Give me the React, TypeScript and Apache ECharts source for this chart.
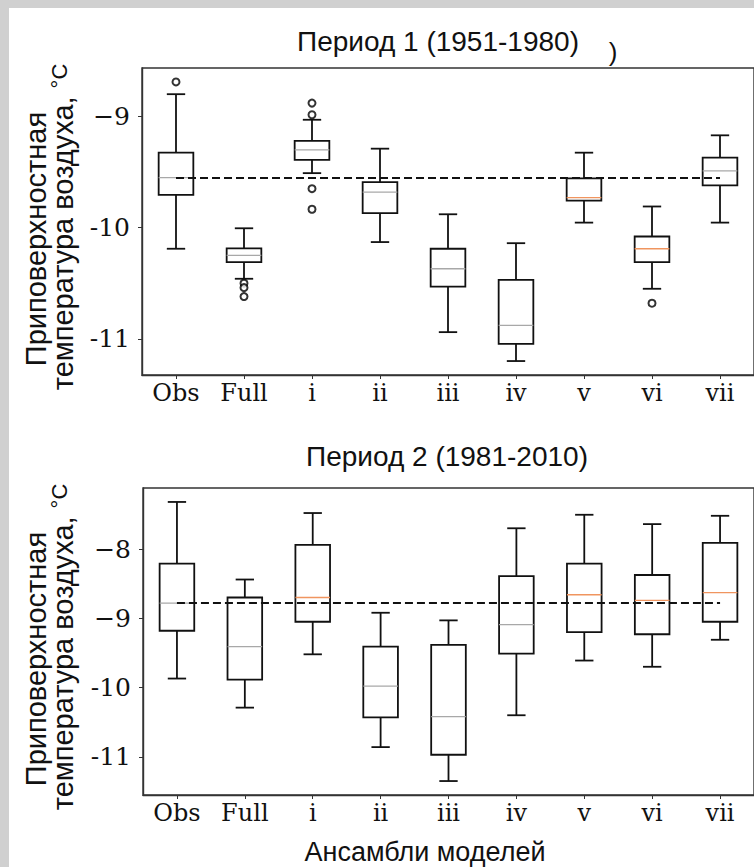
import React, { useEffect, useRef } from "react";
import * as echarts from "echarts";

const CATEGORIES = ["Obs", "Full", "i", "ii", "iii", "iv", "v", "vi", "vii"];

// Period 1 (1951-1980)
const P1_LOW = [-10.19, -10.46, -9.51, -10.13, -10.94, -11.2, -9.955, -10.55, -9.955];
const P1_Q1 = [-9.706, -10.31, -9.39, -9.87, -10.53, -11.045, -9.757, -10.31, -9.62];
const P1_MED = [-9.55, -10.25, -9.3, -9.68, -10.37, -10.88, -9.73, -10.19, -9.49];
const P1_Q3 = [-9.326, -10.186, -9.22, -9.59, -10.19, -10.47, -9.557, -10.08, -9.37];
const P1_HIGH = [-8.8, -10.006, -9.03, -9.29, -9.88, -10.14, -9.326, -9.81, -9.17];
const P1_OUTLIERS: [string, number][] = [
  ["Obs", -8.69],
  ["Full", -10.5],
  ["Full", -10.54],
  ["Full", -10.62],
  ["i", -8.88],
  ["i", -8.985],
  ["i", -9.65],
  ["i", -9.835],
  ["vi", -10.68],
];
const P1_ORANGE = ["v", "vi"];
const P1_TICKS = [-11, -10, -9];
const P1_TICK_LABELS = ["-11", "-10", "\u22129"];

// Period 2 (1981-2010)
const P2_LOW = [-9.87, -10.29, -9.52, -10.86, -11.35, -10.4, -9.61, -9.7, -9.31];
const P2_Q1 = [-9.18, -9.886, -9.05, -10.43, -10.97, -9.51, -9.2, -9.23, -9.05];
const P2_MED = [-8.78, -9.41, -8.7, -9.98, -10.42, -9.09, -8.66, -8.74, -8.63];
const P2_Q3 = [-8.21, -8.7, -7.94, -9.41, -9.385, -8.39, -8.21, -8.375, -7.91];
const P2_HIGH = [-7.32, -8.44, -7.48, -8.92, -9.03, -7.7, -7.505, -7.64, -7.52];
const P2_OUTLIERS: [string, number][] = [];
const P2_ORANGE = ["i", "v", "vi", "vii"];
const P2_TICKS = [-11, -10, -9, -8];
const P2_TICK_LABELS = ["-11", "-10", "\u22129", "\u22128"];

const TITLE1 = "Период 1 (1951-1980)";
const TITLE2 = "Период 2 (1981-2010)";
const YLABEL1 = "Приповерхностная";
const YLABEL2 = "температура воздуха, ";
const XLABEL = "Ансамбли моделей";

const SERIF = "DejaVu Serif";
const SANS = "Liberation Sans";
const INK = "#111111";

function extent(low: number[], high: number[], out: [string, number][]) {
  const vals = [...low, ...high, ...out.map((o) => o[1])];
  const mn = Math.min(...vals);
  const mx = Math.max(...vals);
  const pad = (mx - mn) * 0.05;
  return [mn - pad, mx + pad];
}

function makeRender(orange: string[]) {
  return (params: any, api: any) => {
    const idx = api.value(0);
    const p = (v: number) => api.coord([idx, v]);
    const lo = p(api.value(1));
    const q1 = p(api.value(2));
    const md = p(api.value(3));
    const q3 = p(api.value(4));
    const hi = p(api.value(5));
    const band = api.size([1, 0])[0];
    const bw = band * 0.51;
    const cw = band * 0.27;
    const cx = lo[0];
    const st = { stroke: INK, lineWidth: 1.8, fill: "none" };
    const medColor = orange.indexOf(CATEGORIES[idx]) >= 0 ? "#f0955f" : "#a8a8a8";
    return {
      type: "group",
      children: [
        { type: "line", shape: { x1: cx, y1: q3[1], x2: cx, y2: hi[1] }, style: st },
        { type: "line", shape: { x1: cx, y1: q1[1], x2: cx, y2: lo[1] }, style: st },
        { type: "line", shape: { x1: cx - cw / 2, y1: hi[1], x2: cx + cw / 2, y2: hi[1] }, style: st },
        { type: "line", shape: { x1: cx - cw / 2, y1: lo[1], x2: cx + cw / 2, y2: lo[1] }, style: st },
        {
          type: "rect",
          shape: { x: cx - bw / 2, y: q3[1], width: bw, height: q1[1] - q3[1] },
          style: st,
        },
        {
          type: "line",
          shape: { x1: cx - bw / 2, y1: md[1], x2: cx + bw / 2, y2: md[1] },
          style: { stroke: medColor, lineWidth: 1.3 },
        },
      ],
    };
  };
}

function boxData(lo: number[], q1: number[], md: number[], q3: number[], hi: number[]) {
  return CATEGORIES.map((_, i) => [i, lo[i], q1[i], md[i], q3[i], hi[i]]);
}

export default function App() {
  const ref = useRef<HTMLDivElement>(null);
  useEffect(() => {
    if (!ref.current) return;
    const chart = echarts.init(ref.current, undefined, { renderer: "svg" });
    const [min1, max1] = extent(P1_LOW, P1_HIGH, P1_OUTLIERS);
    const [min2, max2] = extent(P2_LOW, P2_HIGH, P2_OUTLIERS);

    const xAxisBase = (gi: number) => ({
      type: "category",
      gridIndex: gi,
      data: CATEGORIES,
      boundaryGap: true,
      axisLine: { show: true, lineStyle: { color: "#333", width: 1.4 } },
      axisTick: { show: true, alignWithLabel: true, length: 4, lineStyle: { color: "#333", width: 1 } },
      axisLabel: { color: "#111", fontFamily: SERIF, fontSize: 24, margin: 6 },
      splitLine: { show: false },
    });
    const yAxisBase = (gi: number, mn: number, mx: number, ticks: number[], labels: string[]) => ({
      type: "value",
      gridIndex: gi,
      min: mn,
      max: mx,
      axisLine: { show: true, lineStyle: { color: "#333", width: 1.4 } },
      axisTick: { show: true, length: 4, customValues: ticks, lineStyle: { color: "#333", width: 1 } },
      axisLabel: {
        customValues: ticks,
        color: "#111",
        fontFamily: SERIF,
        fontSize: 25,
        margin: 12,
        formatter: (v: number) => {
          const k = ticks.findIndex((t) => Math.abs(t - v) < 1e-6);
          return k >= 0 ? labels[k] : "";
        },
      },
      splitLine: { show: false },
    });

    const refLine = (val: number) => ({
      silent: true,
      symbol: ["none", "none"],
      label: { show: false },
      lineStyle: { type: [8, 4], color: "#111", width: 2 },
      data: [[{ coord: ["Obs", val] }, { coord: ["vii", val] }]],
    });

    const yTitle = (cx1: number, cx2: number, cy: number) => [
      {
        type: "text",
        x: cx1,
        y: cy + 18,
        rotation: Math.PI / 2,
        style: {
          text: YLABEL1,
          font: `29px ${SANS}`,
          fill: "#111",
          align: "center",
          verticalAlign: "middle",
        },
      },
      {
        type: "text",
        x: cx2,
        y: cy + 6,
        rotation: Math.PI / 2,
        style: {
          text: `{n|${YLABEL2}}{s|°C}`,
          fill: "#111",
          align: "center",
          verticalAlign: "middle",
          rich: {
            n: { fontFamily: SANS, fontSize: 29, fill: "#111" },
            s: { fontFamily: SANS, fontSize: 22, fill: "#111", verticalAlign: "top" },
          },
        },
      },
    ];

    chart.setOption({
      animation: false,
      backgroundColor: "#ffffff",
      grid: [
        { left: 142, top: 68, width: 615, height: 307, show: true, borderColor: "#333", borderWidth: 1.4 },
        { left: 143, top: 488, width: 615, height: 307, show: true, borderColor: "#333", borderWidth: 1.4 },
      ],
      xAxis: [xAxisBase(0), xAxisBase(1)],
      yAxis: [
        yAxisBase(0, min1, max1, P1_TICKS, P1_TICK_LABELS),
        yAxisBase(1, min2, max2, P2_TICKS, P2_TICK_LABELS),
      ],
      graphic: [
        { type: "rect", shape: { x: 0, y: 0, width: 754, height: 8 }, style: { fill: "#d0d0d0" } },
        { type: "rect", shape: { x: 0, y: 0, width: 9, height: 867 }, style: { fill: "#d0d0d0" } },
        {
          type: "text",
          x: 438,
          y: 41,
          style: { text: TITLE1, font: `28px ${SANS}`, fill: "#111", align: "center", verticalAlign: "middle" },
        },
        {
          type: "text",
          x: 613,
          y: 52,
          style: { text: ")", font: `26px ${SANS}`, fill: "#111", align: "center", verticalAlign: "middle" },
        },
        {
          type: "text",
          x: 447,
          y: 456,
          style: { text: TITLE2, font: `28px ${SANS}`, fill: "#111", align: "center", verticalAlign: "middle" },
        },
        {
          type: "text",
          x: 425,
          y: 852,
          style: { text: XLABEL, font: `27px ${SANS}`, fill: "#111", align: "center", verticalAlign: "middle" },
        },
        ...yTitle(36, 63, 221),
        ...yTitle(36, 63, 641),
      ],
      series: [
        {
          type: "custom",
          xAxisIndex: 0,
          yAxisIndex: 0,
          renderItem: makeRender(P1_ORANGE),
          encode: { x: 0, y: [1, 2, 3, 4, 5] },
          data: boxData(P1_LOW, P1_Q1, P1_MED, P1_Q3, P1_HIGH),
          markLine: refLine(P1_MED[0]),
          z: 3,
        },
        {
          type: "scatter",
          xAxisIndex: 0,
          yAxisIndex: 0,
          symbol: "emptyCircle",
          symbolSize: 7,
          itemStyle: { color: "#000", borderWidth: 1.4 },
          data: P1_OUTLIERS,
          z: 4,
        },
        {
          type: "custom",
          xAxisIndex: 1,
          yAxisIndex: 1,
          renderItem: makeRender(P2_ORANGE),
          encode: { x: 0, y: [1, 2, 3, 4, 5] },
          data: boxData(P2_LOW, P2_Q1, P2_MED, P2_Q3, P2_HIGH),
          markLine: refLine(P2_MED[0]),
          z: 3,
        },
      ],
    });
    return () => chart.dispose();
  }, []);
  return (
    <div style={{ position: "fixed", left: 0, top: 0, width: 754, height: 867 }}>
      <div ref={ref} style={{ width: 754, height: 867 }} />
    </div>
  );
}
